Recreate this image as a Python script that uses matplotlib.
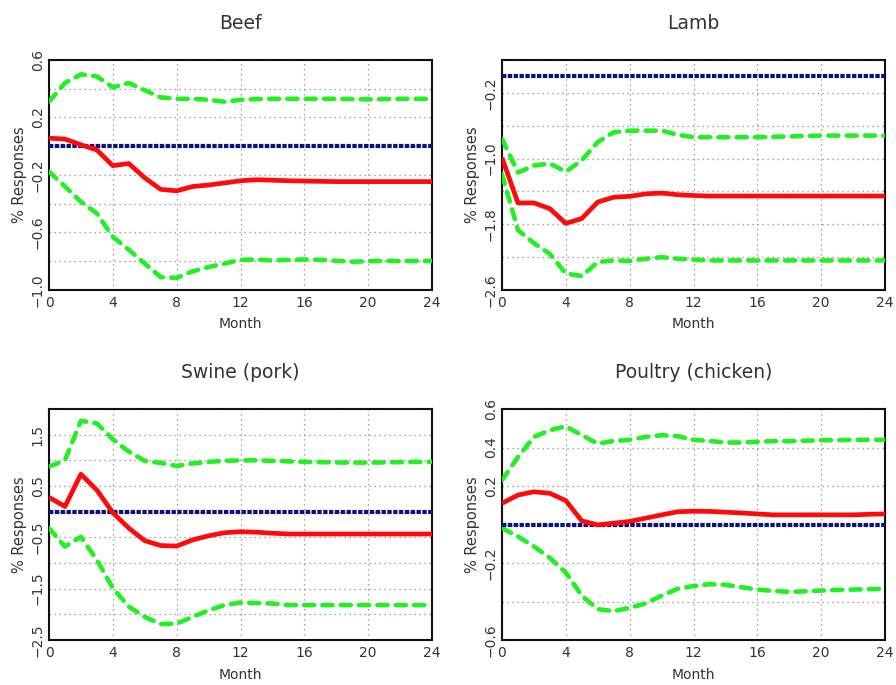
import numpy as np
import matplotlib
matplotlib.use("Agg")
import matplotlib.pyplot as plt
from matplotlib.ticker import FixedLocator, FixedFormatter

months = list(range(25))
zero_line = [0.0] * 25

# Beef
beef_irf = [0.056, 0.05, 0.01, -0.026, -0.135, -0.12, -0.22, -0.30, -0.31, -0.28, -0.27, -0.255,
            -0.24, -0.233, -0.236, -0.24, -0.242, -0.244, -0.246, -0.246, -0.246, -0.246, -0.246,
            -0.246, -0.246]
beef_upper = [0.31, 0.44, 0.50, 0.486, 0.41, 0.44, 0.39, 0.34, 0.33, 0.33, 0.323, 0.31, 0.323,
              0.328, 0.33, 0.33, 0.33, 0.33, 0.33, 0.328, 0.326, 0.328, 0.33, 0.33, 0.33]
beef_lower = [-0.177, -0.28, -0.386, -0.467, -0.63, -0.72, -0.816, -0.91, -0.916, -0.87, -0.84,
              -0.816, -0.79, -0.788, -0.795, -0.79, -0.788, -0.79, -0.797, -0.803, -0.8, -0.798,
              -0.798, -0.798, -0.798]

# Lamb
lamb_irf = [-0.99, -1.54, -1.54, -1.61, -1.79, -1.73, -1.53, -1.47, -1.46, -1.43, -1.42, -1.44,
            -1.45, -1.456, -1.456, -1.456, -1.456, -1.456, -1.456, -1.456, -1.456, -1.456, -1.456,
            -1.456, -1.456]
lamb_upper = [-0.76, -1.17, -1.085, -1.06, -1.16, -1.02, -0.80, -0.68, -0.66, -0.66, -0.66, -0.71,
              -0.74, -0.74, -0.74, -0.74, -0.74, -0.735, -0.73, -0.725, -0.72, -0.72, -0.72, -0.72,
              -0.72]
lamb_lower = [-1.19, -1.87, -2.03, -2.16, -2.40, -2.43, -2.26, -2.24, -2.245, -2.22, -2.20, -2.22,
              -2.23, -2.24, -2.24, -2.24, -2.24, -2.24, -2.24, -2.24, -2.24, -2.24, -2.24, -2.24,
              -2.24]

# Swine (pork)
swine_irf = [0.28, 0.10, 0.73, 0.42, -0.02, -0.32, -0.565, -0.66, -0.67, -0.55, -0.47, -0.41,
             -0.39, -0.40, -0.42, -0.435, -0.435, -0.435, -0.435, -0.435, -0.435, -0.435, -0.435,
             -0.435, -0.435]
swine_upper = [0.88, 1.0, 1.77, 1.72, 1.41, 1.17, 0.99, 0.95, 0.89, 0.94, 0.97, 0.99, 1.0, 1.0,
               0.99, 0.98, 0.97, 0.965, 0.96, 0.955, 0.955, 0.96, 0.965, 0.97, 0.97]
swine_lower = [-0.32, -0.68, -0.49, -0.94, -1.49, -1.85, -2.05, -2.19, -2.18, -2.05, -1.92, -1.82,
               -1.77, -1.78, -1.79, -1.82, -1.82, -1.82, -1.82, -1.82, -1.82, -1.82, -1.82, -1.82,
               -1.82]

# Poultry (chicken)
poultry_irf = [0.11, 0.153, 0.17, 0.162, 0.124, 0.019, -0.002, 0.007, 0.016, 0.033, 0.05, 0.066,
               0.069, 0.068, 0.064, 0.06, 0.055, 0.05, 0.05, 0.05, 0.05, 0.05, 0.05, 0.053, 0.055]
poultry_upper = [0.23, 0.35, 0.455, 0.49, 0.51, 0.464, 0.42, 0.434, 0.44, 0.455, 0.464, 0.459,
                 0.44, 0.434, 0.426, 0.426, 0.43, 0.433, 0.433, 0.435, 0.438, 0.438, 0.44, 0.44,
                 0.44]
poultry_lower = [-0.019, -0.062, -0.114, -0.174, -0.25, -0.37, -0.44, -0.45, -0.433, -0.41, -0.37,
                 -0.334, -0.32, -0.31, -0.313, -0.326, -0.338, -0.345, -0.35, -0.347, -0.343,
                 -0.34, -0.338, -0.336, -0.334]

titles = ["Beef", "Lamb", "Swine (pork)", "Poultry (chicken)"]
x_ticks = [0, 4, 8, 12, 16, 20, 24]

# y grid positions and which of them carry a label
beef_yticks = [-1.0, -0.8, -0.6, -0.4, -0.2, 0.0, 0.2, 0.4, 0.6]
beef_ylabels = ["−1.0", "", "−0.6", "", "−0.2", "", "0.2", "", "0.6"]
lamb_yticks = [-2.6, -2.2, -1.8, -1.4, -1.0, -0.6, -0.2, 0.2]
lamb_ylabels = ["−2.6", "", "−1.8", "", "−1.0", "", "−0.2", ""]
swine_yticks = [-2.5, -2.0, -1.5, -1.0, -0.5, 0.0, 0.5, 1.0, 1.5, 2.0]
swine_ylabels = ["−2.5", "", "−1.5", "", "−0.5", "", "0.5", "", "1.5", ""]
poultry_yticks = [-0.6, -0.4, -0.2, 0.0, 0.2, 0.4, 0.6]
poultry_ylabels = ["−0.6", "", "−0.2", "", "0.2", "0.4", "0.6"]

panels = [
    (beef_irf, beef_upper, beef_lower, beef_yticks, beef_ylabels),
    (lamb_irf, lamb_upper, lamb_lower, lamb_yticks, lamb_ylabels),
    (swine_irf, swine_upper, swine_lower, swine_yticks, swine_ylabels),
    (poultry_irf, poultry_upper, poultry_lower, poultry_yticks, poultry_ylabels),
]

W, H = 896, 685
fig = plt.figure(figsize=(W / 100, H / 100), dpi=100)
plt.rcParams["font.family"] = ["DejaVu Sans"]

# axes boxes in pixels: left, top, right, bottom
boxes = [(49, 60, 432, 290), (502, 60, 885, 290),
         (49, 409, 432, 640), (502, 409, 885, 640)]

text_color = "#333333"
green = "#22f022"
red = "#ff0a0a"
navy = "#0a1480"

for (irf, upper, lower, yt, yl), title, (l, t, r, b) in zip(panels, titles, boxes):
    ax = fig.add_axes([l / W, 1 - b / H, (r - l) / W, (b - t) / H])
    ax.set_xlim(0, 24)
    ax.set_ylim(yt[0], yt[-1])

    ax.plot(months, upper, color=green, lw=3.3, linestyle=(0, (2.2, 1.8)),
            dash_capstyle="round", zorder=3)
    ax.plot(months, lower, color=green, lw=3.3, linestyle=(0, (2.2, 1.8)),
            dash_capstyle="round", zorder=3)
    ax.plot(months, zero_line, color=navy, lw=3.0, linestyle=(0, (1.05, 0.35)),
            dash_capstyle="butt", zorder=4, clip_on=False)
    ax.plot(months, irf, color=red, lw=3.4, solid_capstyle="butt", zorder=5)

    ax.xaxis.set_major_locator(FixedLocator(x_ticks))
    ax.yaxis.set_major_locator(FixedLocator(yt))
    ax.yaxis.set_major_formatter(FixedFormatter(yl))
    ax.grid(True, color="#888888", linestyle=(0, (1, 3)), linewidth=0.9)
    ax.tick_params(length=0, labelsize=10, labelcolor=text_color)
    ax.tick_params(axis="x", pad=4)
    ax.tick_params(axis="y", pad=3)
    for lab in ax.get_yticklabels():
        lab.set_rotation(90)
        lab.set_verticalalignment("center")
    for s in ax.spines.values():
        s.set_linewidth(1.5)
        s.set_color("#111111")

    ax.set_title(title, fontsize=13.5, color=text_color, pad=22)
    ax.set_xlabel("Month", fontsize=10, color=text_color)
    ax.xaxis.set_label_coords(0.5, -0.15)
    ax.xaxis.label.set_verticalalignment("center")
    ax.set_ylabel("% Responses", fontsize=10.5, color=text_color)
    ax.yaxis.set_label_coords(-0.078, 0.5)
    ax.yaxis.label.set_verticalalignment("center")

fig.savefig("out.png", dpi=100)
